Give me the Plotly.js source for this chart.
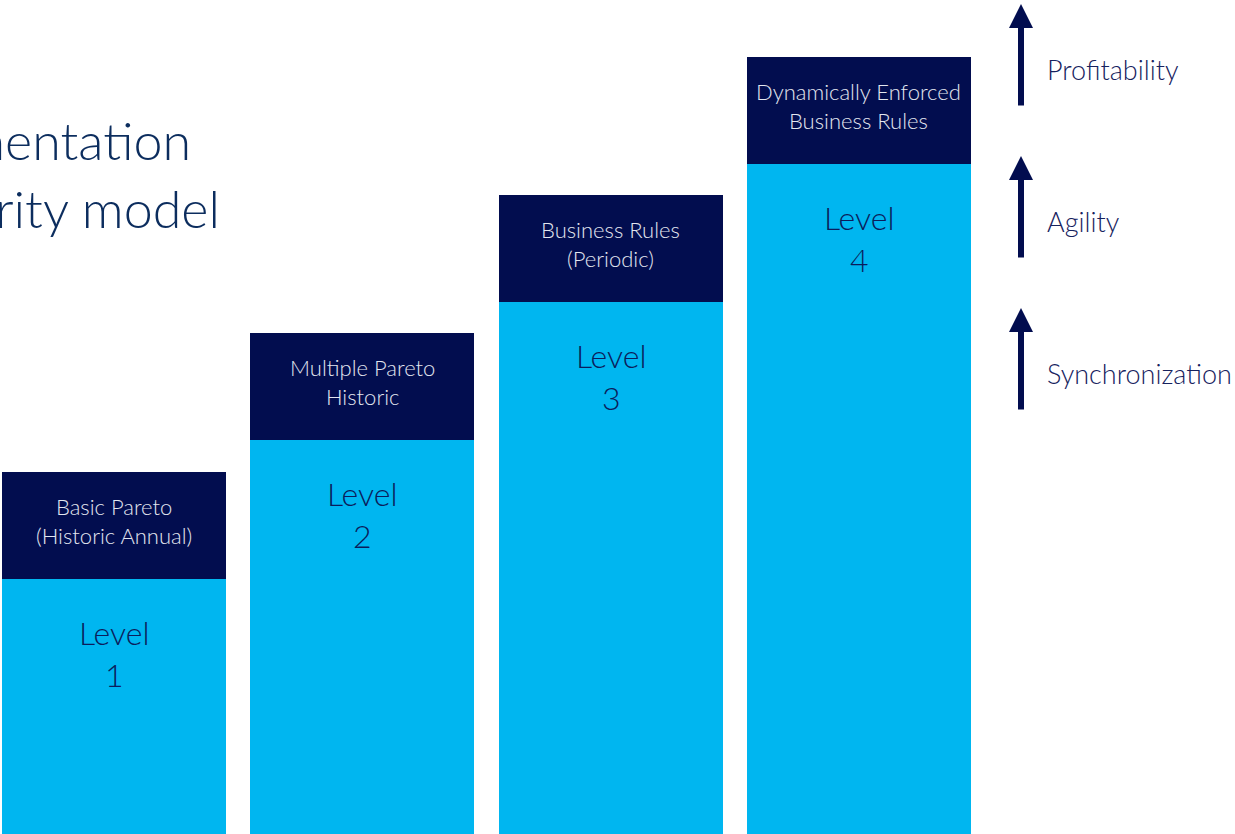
<!DOCTYPE html>
<html>
<head>
<meta charset="utf-8">
<script src="https://cdn.plot.ly/plotly-3.0.1.min.js"></script>
<style>html,body{margin:0;padding:0;background:#fff;}#chart{width:1235px;height:834px;}</style>
</head>
<body>
<div id="chart"></div>
<script>
// Data
const levels = [0, 1, 2, 3];
const levelLabels = ["Level<br>1", "Level<br>2", "Level<br>3", "Level<br>4"];
const capLabels = ["Basic Pareto<br>(Historic Annual)", "Multiple Pareto<br>Historic", "Business Rules<br>(Periodic)", "Dynamically Enforced<br>Business Rules"];
const baseHeights = [255, 394, 532, 670];
const capHeights = [107, 107, 107, 107];
const outcomes = ["Profitability", "Agility", "Synchronization"];
const titleText = "Segmentation<br>maturity model";

const LIGHT = "#00b6f0";
const NAVY = "#020d4f";
const FONT = "Lato, Open Sans, sans-serif";
const STEP = 248.33;

const traces = [
  { type: "bar", x: levels, y: baseHeights, width: 224 / STEP, marker: { color: LIGHT }, hoverinfo: "skip" },
  { type: "bar", x: levels, y: capHeights, width: 224 / STEP, marker: { color: NAVY }, hoverinfo: "skip" }
];

const annotations = [];
levels.forEach((lv, i) => {
  annotations.push({
    x: lv, y: baseHeights[i] + capHeights[i] / 2, xref: "x", yref: "y", yshift: 5,
    text: capLabels[i], showarrow: false, align: "center",
    font: { family: FONT, size: 22, weight: 300, color: "#e2e6f0" }
  });
  annotations.push({
    x: lv, y: baseHeights[i], xref: "x", yref: "y", yanchor: "top", yshift: -32,
    text: levelLabels[i], showarrow: false, align: "center",
    font: { family: FONT, size: 32, weight: 300, color: "#0b1d5c" }
  });
});

// title (cut off at the left edge as in the reference)
annotations.push({
  x: 222 / 1235, y: 1 - 107 / 834, xref: "paper", yref: "paper",
  xanchor: "right", yanchor: "top", align: "left",
  text: titleText, showarrow: false,
  font: { family: FONT, size: 52, weight: 300, color: "#0c2d5e" }
});

// outcome arrows
outcomes.forEach((t, i) => {
  const tipPx = 4 + i * 152;
  annotations.push({
    x: 1021 / 1235, y: 1 - tipPx / 834, xref: "paper", yref: "paper",
    ax: 0, ay: 103, axref: "pixel", ayref: "pixel",
    text: "", showarrow: true, arrowhead: 2, arrowsize: 0.8, arrowwidth: 6,
    arrowcolor: NAVY, standoff: 0
  });
  annotations.push({
    x: 1045 / 1235, y: 1 - (tipPx + 65) / 834, xref: "paper", yref: "paper",
    xanchor: "left", yanchor: "middle",
    text: t, showarrow: false,
    font: { family: FONT, size: 27, weight: 300, color: "#16225e" }
  });
});

const layout = {
  width: 1235, height: 834,
  margin: { l: 0, r: 0, t: 0, b: 0 },
  paper_bgcolor: "#ffffff", plot_bgcolor: "#ffffff",
  barmode: "stack", showlegend: false,
  xaxis: { range: [-114 / STEP, 1121 / STEP], visible: false, fixedrange: true },
  yaxis: { range: [0, 834], visible: false, fixedrange: true },
  annotations: annotations
};

Plotly.newPlot("chart", traces, layout, { displayModeBar: false, staticPlot: true });
</script>
</body>
</html>
